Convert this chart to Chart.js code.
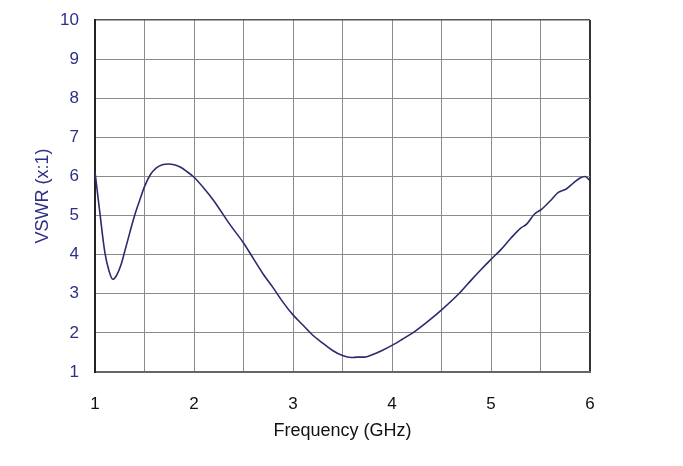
<!DOCTYPE html>
<html>
<head>
<meta charset="utf-8">
<script src="https://cdn.jsdelivr.net/npm/chart.js@4/dist/chart.umd.min.js"></script>
<style>
  html, body { margin: 0; padding: 0; background: #fff; }
  #wrap { width: 683px; height: 466px; }
</style>
</head>
<body>
<div id="wrap"><canvas id="vswr"></canvas></div>
<script>
// frequency in GHz
const freq = [1.00, 1.05, 1.10, 1.14, 1.18, 1.22, 1.26, 1.30, 1.35, 1.40, 1.45, 1.50,
  1.56, 1.62, 1.68, 1.74, 1.80, 1.86, 1.93, 2.00, 2.10, 2.20, 2.36, 2.50, 2.60, 2.70,
  2.80, 2.90, 3.00, 3.10, 3.20, 3.30, 3.40, 3.50, 3.59, 3.65, 3.72, 3.80, 3.90, 4.00,
  4.10, 4.22, 4.35, 4.51, 4.69, 4.80, 4.90, 5.00, 5.10, 5.20, 5.30, 5.36, 5.44, 5.51,
  5.60, 5.68, 5.76, 5.84, 5.90, 5.95, 6.00];
// VSWR (x:1)
const vswr = [6.12, 5.05, 4.05, 3.60, 3.37, 3.48, 3.72, 4.08, 4.55, 5.00, 5.38, 5.74,
  6.05, 6.22, 6.30, 6.32, 6.30, 6.24, 6.12, 5.98, 5.70, 5.38, 4.78, 4.30, 3.90, 3.50,
  3.15, 2.78, 2.46, 2.20, 1.94, 1.74, 1.55, 1.42, 1.37, 1.38, 1.38, 1.44, 1.55, 1.68,
  1.83, 2.02, 2.27, 2.61, 3.04, 3.35, 3.62, 3.88, 4.13, 4.42, 4.68, 4.78, 5.04, 5.16,
  5.38, 5.59, 5.68, 5.85, 5.96, 6.00, 5.89];
const xTicks = [1, 2, 3, 4, 5, 6];
const yTicks = [1, 2, 3, 4, 5, 6, 7, 8, 9, 10];

const points = freq.map((f, i) => ({ x: f, y: vswr[i] }));
const fontFam = '"Liberation Sans", Arial, sans-serif';
const navy = '#2e2f86';

new Chart(document.getElementById('vswr'), {
  type: 'line',
  data: {
    datasets: [{
      data: points,
      borderColor: '#2b2b6e',
      borderWidth: 1.6,
      pointRadius: 0,
      tension: 0.4,
      cubicInterpolationMode: 'monotone',
      fill: false
    }]
  },
  options: {
    responsive: true,
    maintainAspectRatio: false,
    animation: false,
    layout: { padding: { top: 20, right: 93, left: 0, bottom: 0 } },
    plugins: { legend: { display: false }, tooltip: { enabled: false } },
    scales: {
      x: {
        type: 'linear',
        min: 1,
        max: 6,
        afterFit: (s) => { s.height = 94; s.paddingLeft = 0; s.paddingRight = 0; },
        ticks: {
          stepSize: 0.5,
          padding: 22,
          color: '#111',
          font: { family: fontFam, size: 17 },
          maxRotation: 0,
          autoSkip: false,
          callback: (v) => xTicks.includes(v) ? String(v) : ''
        },
        grid: {
          drawTicks: false,
          color: (c) => c.tick && c.tick.value === 6 ? '#333' : '#8a8a8a',
          lineWidth: (c) => c.tick && c.tick.value === 6 ? 2 : 1
        },
        border: { color: '#666', width: 2 },
        title: {
          display: true,
          text: 'Frequency (GHz)',
          color: '#111',
          font: { family: fontFam, size: 18 },
          padding: { top: 0, bottom: 24 }
        }
      },
      y: {
        type: 'linear',
        min: 1,
        max: 10,
        afterFit: (s) => { s.width = 95; s.paddingTop = 0; s.paddingBottom = 0; },
        ticks: {
          stepSize: 1,
          padding: 16,
          color: navy,
          font: { family: fontFam, size: 17 },
          callback: (v) => yTicks.includes(v) ? String(v) : ''
        },
        grid: {
          drawTicks: false,
          color: (c) => c.tick && c.tick.value === 10 ? '#555' : '#8a8a8a',
          lineWidth: (c) => c.tick && c.tick.value === 10 ? 1.5 : 1
        },
        border: { color: '#222', width: 2 },
        title: {
          display: true,
          text: 'VSWR (x:1)',
          color: navy,
          font: { family: fontFam, size: 18 },
          padding: { top: 32, bottom: 0 }
        }
      }
    }
  }
});
</script>
</body>
</html>
